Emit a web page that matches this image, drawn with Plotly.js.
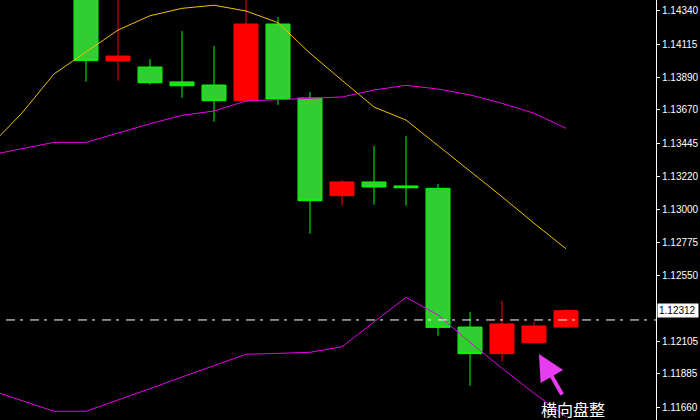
<!DOCTYPE html>
<html>
<head>
<meta charset="utf-8">
<script src="https://cdn.plot.ly/plotly-3.0.1.min.js"></script>
<style>html,body{margin:0;padding:0;background:#000;}#chart{width:700px;height:420px;}</style>
</head>
<body>
<div id="chart"></div>
<script>
// Candle index (bar number)
var candleIdx = [0,1,2,3,4,5,6,7,8,9,10,11,12,13,14,15];
var openVals  = [1.14550,1.14002,1.13961,1.13860,1.13839,1.13733,1.14252,1.13751,1.13090,1.13183,1.13156,1.13140,1.12201,1.12021,1.12095,1.12201];
var highVals  = [1.14617,1.14448,1.14015,1.14205,1.14103,1.14448,1.14299,1.13792,1.13196,1.13426,1.13494,1.13169,1.12303,1.12379,1.12237,1.12323];
var lowVals   = [1.13862,1.13868,1.13841,1.13753,1.13591,1.13730,1.13704,1.12833,1.13022,1.13029,1.13022,1.12143,1.11804,1.11967,1.12095,1.12197];
var closeVals = [1.14004,1.14035,1.13855,1.13834,1.13733,1.14252,1.13744,1.13056,1.13183,1.13149,1.13144,1.12199,1.12021,1.12222,1.12208,1.12312];

// Bollinger bands (include earlier bars that run off the left edge)
var bandIdx   = [-3,-2,-1,0,1,2,3,4,5,6,7,8,9,10,11,12,13,14,15];
var upperBand = [1.13426,1.13650,1.13914,1.14065,1.14211,1.14308,1.14358,1.14379,1.14340,1.14261,1.14054,1.13871,1.13690,1.13602,1.13431,1.13257,1.13083,1.12904,1.12731];
var midBand   = [1.13365,1.13408,1.13451,1.13451,1.13516,1.13577,1.13634,1.13663,1.13731,1.13740,1.13744,1.13758,1.13805,1.13837,1.13812,1.13772,1.13715,1.13648,1.13546];
var lowerBand = [1.11775,1.11703,1.11631,1.11631,1.11706,1.11784,1.11863,1.11940,1.12017,1.12023,1.12030,1.12068,1.12238,1.12402,1.12283,1.12097,1.11922,1.11753,1.11594];

// Price axis ticks
var tickVals = [1.14340,1.14115,1.13890,1.13670,1.13445,1.13220,1.13000,1.12775,1.12550,1.12105,1.11885,1.11660];
var tickText = ["1.14340","1.14115","1.13890","1.13670","1.13445","1.13220","1.13000","1.12775","1.12550","1.12105","1.11885","1.11660"];

var currentPrice = 1.12312;
var currentLabel = "1.12312";
var hlineValue = 1.12249;
var noteText = "横向盘整";

var traces = [
  {type:'scatter', mode:'lines', x:bandIdx, y:upperBand, line:{color:'#f0c000', width:1}, hoverinfo:'skip'},
  {type:'scatter', mode:'lines', x:bandIdx, y:midBand, line:{color:'#e800e8', width:1}, hoverinfo:'skip'},
  {type:'scatter', mode:'lines', x:bandIdx, y:lowerBand, line:{color:'#e800e8', width:1}, hoverinfo:'skip'},
  {type:'candlestick', x:candleIdx, open:openVals, high:highVals, low:lowVals, close:closeVals,
   increasing:{line:{color:'#ff0000', width:1}, fillcolor:'#ff0000'},
   decreasing:{line:{color:'#00ff00', width:1}, fillcolor:'#32cd32'},
   whiskerwidth:0}
];

var layout = {
  width:700, height:420,
  paper_bgcolor:'#000', plot_bgcolor:'#000',
  margin:{l:0, r:44, t:0, b:0},
  showlegend:false,
  boxgap:0.25,
  boxgroupgap:0,
  xaxis:{range:[-2.6875, 17.8125], visible:false, rangeslider:{visible:false}, fixedrange:true},
  yaxis:{range:[1.11572, 1.144144], side:'right', showgrid:false, zeroline:false,
         showline:true, linecolor:'#ffffff', linewidth:1, mirror:false,
         ticks:'outside', ticklen:3, tickcolor:'#ffffff', tickwidth:1,
         tickvals:tickVals, ticktext:tickText, automargin:false,
         tickfont:{family:'Liberation Sans, Arial, sans-serif', size:10, color:'#ffffff'}},
  shapes:[
    {type:'line', xref:'paper', x0:6/656, x1:1, yref:'y', y0:hlineValue, y1:hlineValue,
     line:{color:'#ffffff', width:1, dash:'9px,5px,3px,7px'}}
  ],
  annotations:[
    {xref:'paper', x:1, xanchor:'left', xshift:1, yref:'y', y:currentPrice, yanchor:'middle',
     text:currentLabel, showarrow:false, bgcolor:'#ffffff', borderpad:1, width:38, align:'left',
     font:{family:'Liberation Sans, Arial, sans-serif', size:10, color:'#000000'}},
    {xref:'x', x:14.156, yref:'y', y:1.12019, text:'', showarrow:true,
     ax:24, ay:42, arrowcolor:'#e83cf0', arrowwidth:4, arrowhead:2, arrowsize:1.3},
    {xref:'x', x:15.22, yref:'y', y:1.11647, yanchor:'middle', text:noteText, showarrow:false,
     height:18, borderpad:0,
     font:{family:'Noto Sans CJK SC, sans-serif', size:16, color:'#ffffff'}}
  ]
};

Plotly.newPlot('chart', traces, layout, {displayModeBar:false, staticPlot:true});
</script>
</body>
</html>
